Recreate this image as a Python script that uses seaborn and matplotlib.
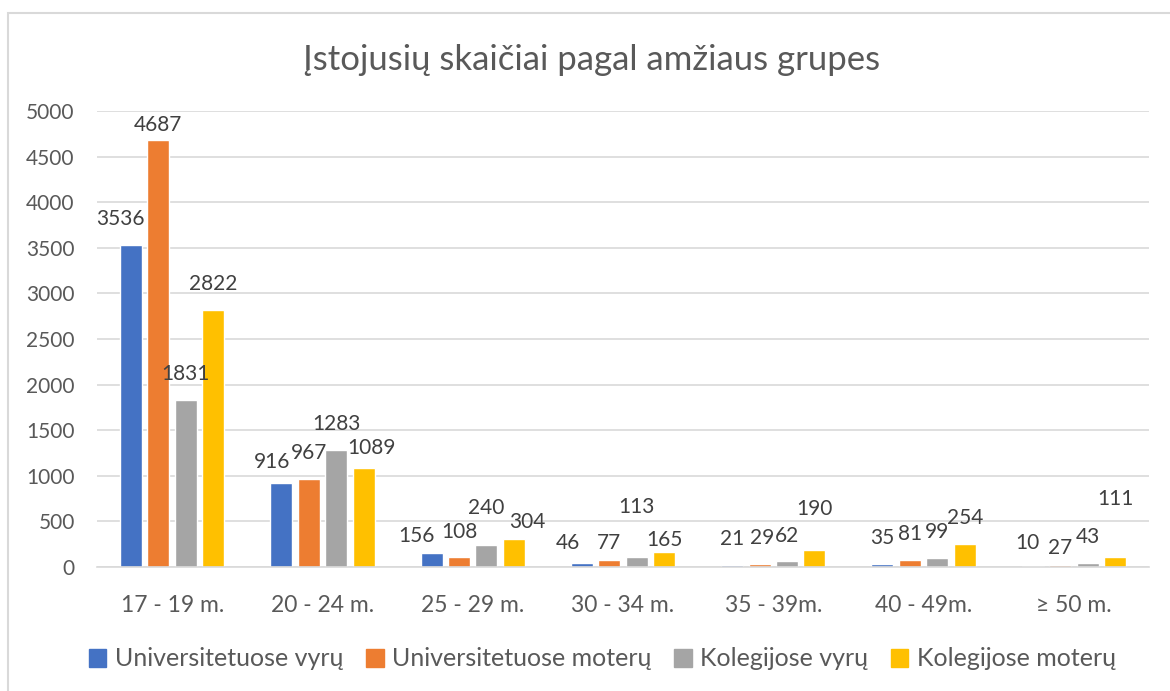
import numpy as np
import pandas as pd
import matplotlib.pyplot as plt
import matplotlib.patches as mpatches
import seaborn as sns

# data
groups = ["17 - 19 m.", "20 - 24 m.", "25 - 29 m.", "30 - 34 m.", "35 - 39m.", "40 - 49m.", "≥ 50 m."]
series = ["Universitetuose vyrų", "Universitetuose moterų", "Kolegijose vyrų", "Kolegijose moterų"]
uni_vyru = [3536, 916, 156, 46, 21, 35, 10]
uni_moteru = [4687, 967, 108, 77, 29, 81, 27]
kol_vyru = [1831, 1283, 240, 113, 62, 99, 43]
kol_moteru = [2822, 1089, 304, 165, 190, 254, 111]
colors = ["#4472C4", "#ED7D31", "#A5A5A5", "#FFC000"]

# label nudges (pixels) so the labels sit like the original
nudge = [
    [(-11, 0), (-9, -5), (-15, -9), (-14, -6), (0, 0), (0, 0), (-5, -3)],
    [(0, -11), (0, 0), (0, -1), (0, -9), (3, 0), (0, 0), (0, -9)],
    [(0, 0), (0, 0), (0, 11), (0, 24), (0, -1), (0, 0), (0, 0)],
    [(0, 0), (8, -6), (13, -9), (0, -14), (0, 15), (0, 0), (0, 32)],
]

df = pd.DataFrame({
    "grupe": groups * 4,
    "serija": np.repeat(series, len(groups)),
    "kiekis": uni_vyru + uni_moteru + kol_vyru + kol_moteru,
})

sns.set_style("white")
fam = ["Lato", "DejaVu Sans"]
plt.rcParams["font.family"] = fam

fig = plt.figure(figsize=(11.7, 6.91), dpi=100)
ax = fig.add_axes([97 / 1170, 1 - 567 / 691, 1052 / 1170, 456 / 691])

sns.barplot(data=df, x="grupe", y="kiekis", hue="serija", palette=colors,
            width=0.73, gap=0.2, legend=False, ax=ax, saturation=1)

for i, cont in enumerate(ax.containers):
    for j, bar in enumerate(cont):
        v = int(round(bar.get_height()))
        dx, dy = nudge[i][j]
        ax.annotate(str(v), (bar.get_x() + bar.get_width() / 2, bar.get_height()),
                    xytext=(dx, 26 + dy), textcoords="offset pixels",
                    ha="center", va="center", fontsize=15, color="#404040")

ax.set_ylim(0, 5000)
ax.set_xlim(-0.5, len(groups) - 0.5)
ax.set_yticks(np.arange(0, 5001, 500))
ax.yaxis.grid(True, color="#d9d9d9", linewidth=1.2)
ax.set_axisbelow(True)
for s in ["left", "right", "top"]:
    ax.spines[s].set_visible(False)
ax.spines["bottom"].set_color("#d9d9d9")
ax.spines["bottom"].set_linewidth(1.2)
ax.tick_params(axis="y", length=0, pad=16, labelsize=15, labelcolor="#595959")
ax.tick_params(axis="x", length=0, pad=20, labelsize=16.5, labelcolor="#595959")
ax.set_xlabel("")
ax.set_ylabel("")

fig.text(0.506, 1 - 60 / 691, "Įstojusių skaičiai pagal amžiaus grupes",
         ha="center", va="center", fontsize=25, color="#595959")

handles = [mpatches.Patch(color=c, label=s) for c, s in zip(colors, series)]
fig.legend(handles=handles, loc="center", bbox_to_anchor=(0.515, 1 - 659 / 691),
           ncol=4, frameon=False, fontsize=18, handlelength=0.7, handleheight=0.7,
           handletextpad=0.35, columnspacing=0.9, labelcolor="#595959")

# chart area border
fig.patches.append(mpatches.Rectangle((8 / 1170, -0.1), 1.2, 1 - 13 / 691 + 0.1,
                                      transform=fig.transFigure, fill=False,
                                      edgecolor="#d9d9d9", linewidth=1.5))

fig.savefig("out.png", dpi=100)
